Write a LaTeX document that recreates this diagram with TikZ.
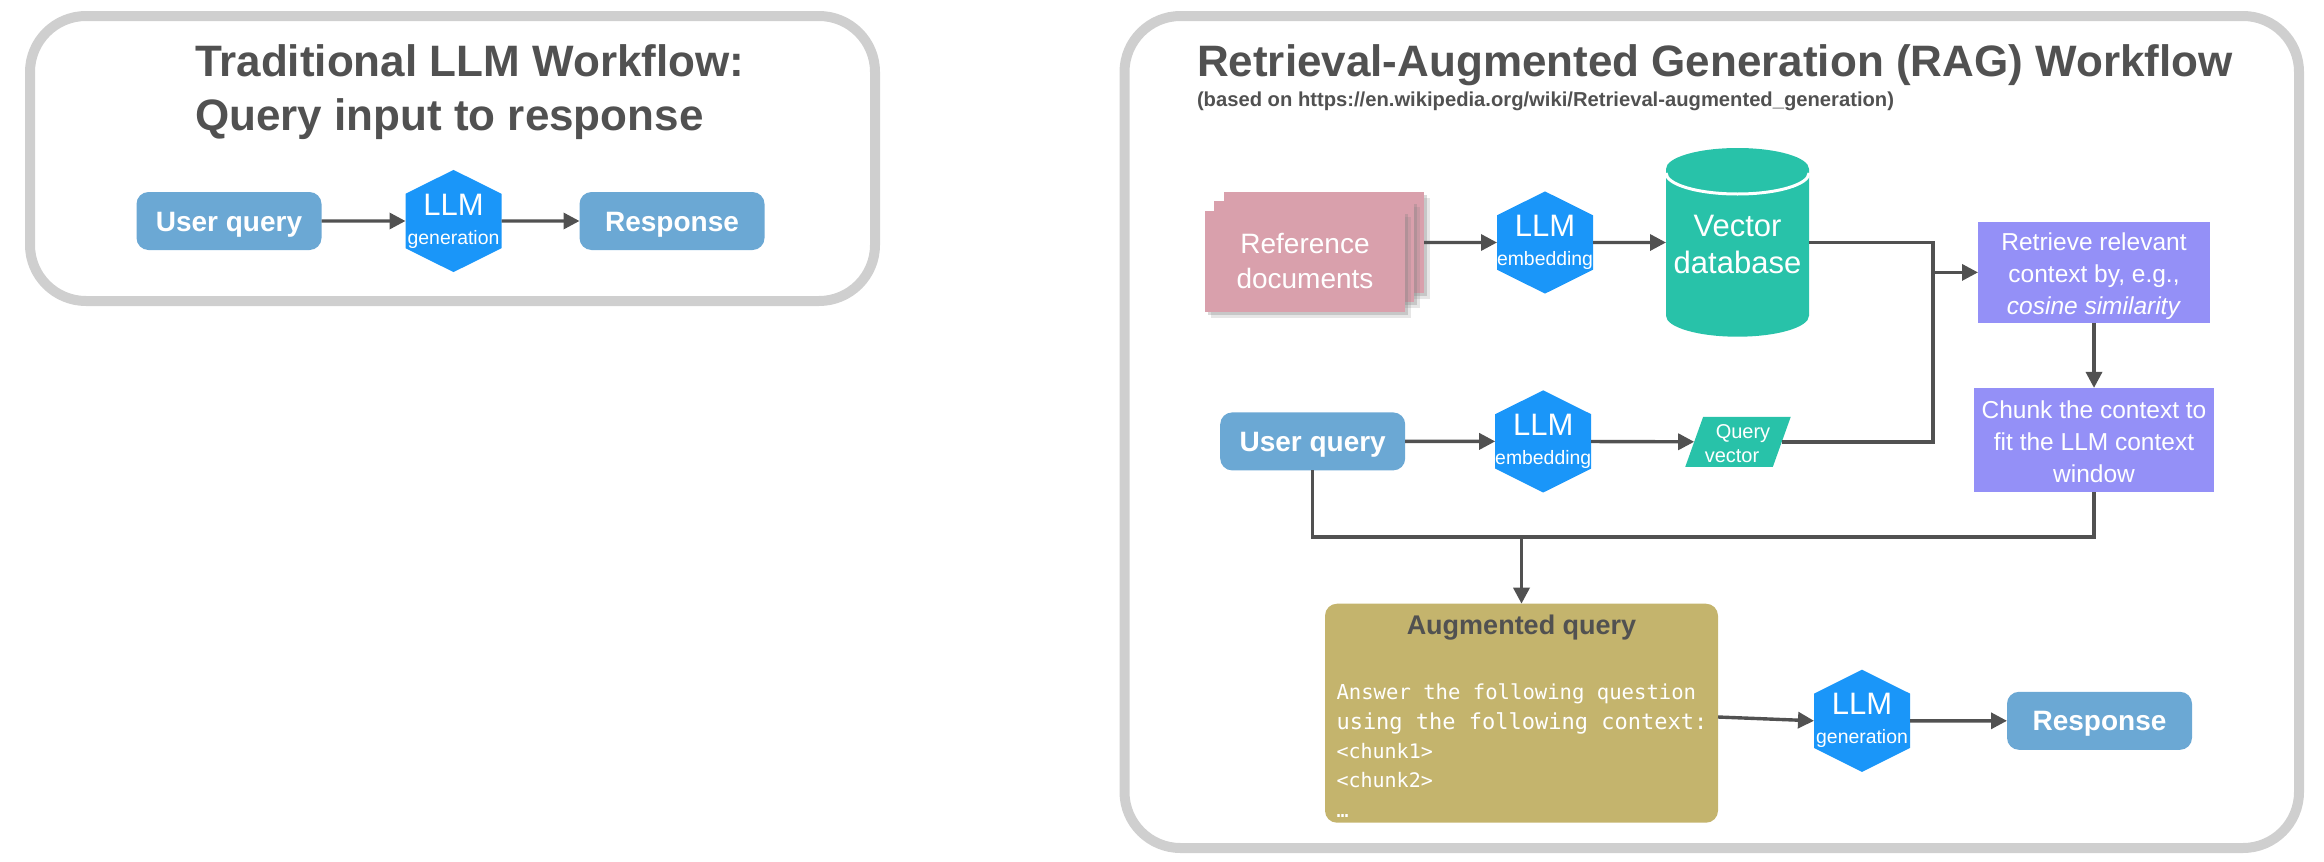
\documentclass[tikz,border=0pt]{standalone}
\usepackage{fontspec}
\setmainfont{Liberation Sans}
\setmonofont{DejaVu Sans Mono}
\usetikzlibrary{arrows.meta,positioning,shadows,shapes.geometric,shapes.symbols}

\definecolor{panelgray}{HTML}{CFCFCF}
\definecolor{inkgray}{HTML}{515151}
\definecolor{boxblue}{HTML}{6BA8D4}
\definecolor{llmblue}{HTML}{1A96F9}
\definecolor{dbteal}{HTML}{28C2A9}
\definecolor{stepviolet}{HTML}{9490F7}
\definecolor{docpink}{HTML}{D9A0AC}
\definecolor{promptgold}{HTML}{C4B46D}

\newcommand{\llmtext}[1]{{\fontsize{15.5}{15.5}\selectfont LLM}\\[2.5pt]{\fontsize{9.7}{9.7}\selectfont #1}}

\begin{document}
\begin{tikzpicture}[x=0.5pt, y=-0.5pt, line width=1.7pt, node distance=20pt,
    every node/.style={outer sep=0pt},
    panel/.style={draw=panelgray, line width=5pt, rounded corners=28pt, inner sep=0pt},
    heading/.style={anchor=base west, inner sep=0pt, text=inkgray, font=\bfseries\fontsize{22}{25}\selectfont},
    pill/.style={fill=boxblue, rounded corners=6pt, inner sep=0pt, minimum width=92.5pt, minimum height=29pt, text=white, text height=12pt, text depth=2pt, font=\bfseries\fontsize{14}{17}\selectfont},
    llm/.style={signal, signal to=north and south, signal pointer angle=127, fill=llmblue, inner sep=0pt, minimum width=48pt, minimum height=48.5pt, text=white, align=center},
    paper/.style={fill=docpink, inner sep=0pt, minimum width=100pt, minimum height=50.5pt,
      drop shadow={shadow xshift=3pt, shadow yshift=-3pt, opacity=0.2},
      drop shadow={shadow xshift=1.5pt, shadow yshift=-1.5pt, opacity=0.3}},
    stepbox/.style={fill=stepviolet, inner sep=0pt, text=white, align=center, font=\fontsize{12.25}{16}\selectfont},
    link/.style={color=inkgray, -{Triangle[length=8pt, width=8pt]}},
    wire/.style={draw=inkgray}
  ]
  \useasboundingbox (0,0) rectangle (2324,862);

  % traditional workflow
  \node[panel, minimum width=422.5pt, minimum height=142.5pt] (plainpanel) at (452.5,158.5) {};
  \node[heading] (plaintitle) at (195,76) {Traditional LLM Workflow:};
  \node[heading] (plainsub) at (195,130) {Query input to response};
  \node[pill] (plainquery) at (229,221) {User query};
  \node[llm, right=42pt of plainquery] (plaingen) {\llmtext{generation}};
  \node[pill, right=39pt of plaingen] (plainresp) {Response};

  \path [link]
    (plainquery) edge (plaingen)
    (plaingen) edge (plainresp)
  ;

  % rag workflow
  \node[panel, minimum width=587.25pt, minimum height=416pt] (ragpanel) at (1711.75,432) {};
  \node[heading] (ragtitle) at (1197,76) {Retrieval-Augmented Generation (RAG) Workflow};
  \node[heading, font=\bfseries\fontsize{10.1}{12}\selectfont] (ragsource) at (1197,106) {(based on https://en.wikipedia.org/wiki/Retrieval-augmented\_generation)};

  \node[paper] (paperc) at (1324,242.5) {};
  \node[paper] (paperb) at (1314,251.5) {};
  \node[paper, text=white, align=center, yshift=-0.3pt, font=\fontsize{14}{17.5}\selectfont] (papera) at (1305,260.5) {Reference\\documents};

  \node[llm, right=36.5pt of paperc] (ragembed) {\llmtext{embedding}};

  \fill[dbteal] (1666,169) arc[start angle=180, end angle=360, x radius=71.5, y radius=21]
    -- (1809,315.7) arc[start angle=0, end angle=180, x radius=71.5, y radius=21] -- cycle;
  \draw[white, line width=1.5pt] (1666,173) arc[start angle=180, end angle=0, x radius=71.5, y radius=21];
  \node[inner sep=0pt, minimum width=71.5pt, minimum height=94.5pt, text=white, align=center, font=\fontsize{15.5}{18.3}\selectfont] (vectordb) at (1737.5,242.5) {\rule{0pt}{12.6pt}Vector\\database};

  \node[stepbox, minimum width=116pt, minimum height=50.5pt] (retrieve) at (2094,272.4) {\rule{0pt}{13pt}Retrieve relevant\\context by, e.g.,\\\textit{cosine similarity}};
  \node[stepbox, minimum width=120pt, minimum height=52pt, below=32.5pt of retrieve] (chunk) {\rule{0pt}{10.5pt}Chunk the context to\\fit the LLM context\\window};

  \node[pill] (ragquery) at (1312.7,441.4) {User query};
  \node[llm, right=45pt of ragquery] (queryembed) {\llmtext{embedding}};
  \node[trapezium, trapezium left angle=68, trapezium right angle=112, trapezium stretches=true, fill=dbteal, inner sep=0pt, minimum width=53pt, minimum height=25pt, text=white, align=center, font=\fontsize{10}{12}\selectfont] (queryvec) at (1738,441.8) {\rule{0pt}{9pt}\hspace*{5pt}Query\\vector\hspace*{6pt}};

  \node[fill=promptgold, rounded corners=6pt, inner sep=0pt, minimum width=196.5pt, minimum height=109.5pt] (augmented) at (1521.5,713.2) {};
  \node[inner sep=0pt, anchor=base, text=inkgray, font=\bfseries\fontsize{13.5}{16}\selectfont] (augtitle) at (1521.5,634) {Augmented query};
  \node[inner sep=0pt, anchor=north west, text=white, align=left, font=\ttfamily\fontsize{11}{14.7}\selectfont] (augtext) at (1336.5,684) {{\fontsize{10.3}{14.7}\selectfont Answer the following question}\\using the following context:\\{\fontsize{10}{14.7}\selectfont <chunk1>}\\{\fontsize{10}{14.7}\selectfont <chunk2>}\\{\fontsize{10}{14.7}\selectfont …}};

  \node[llm] (raggen) at (1862,720.8) {\llmtext{generation}};
  \node[pill, right=48.5pt of raggen] (ragresp) {Response};

  \coordinate (joint) at (1933,272.4);
  \coordinate (merge) at (1521.5,537);
  \coordinate (augout) at (1718,717);

  \path [link]
    (paperc) edge (ragembed)
    (ragembed) edge (vectordb.west)
    (ragquery) edge (queryembed)
    (queryembed) edge (queryvec.west)
    (joint) edge (retrieve)
    (retrieve) edge (chunk)
    (merge) edge (augmented)
    (augout) edge (raggen.west)
    (raggen) edge (ragresp)
  ;
  \draw[wire] (vectordb.east) -| (joint);
  \draw[wire] (queryvec.east) -| (joint);
  \draw[wire] (ragquery.south) |- (merge) -| (chunk.south);
\end{tikzpicture}
\end{document}
